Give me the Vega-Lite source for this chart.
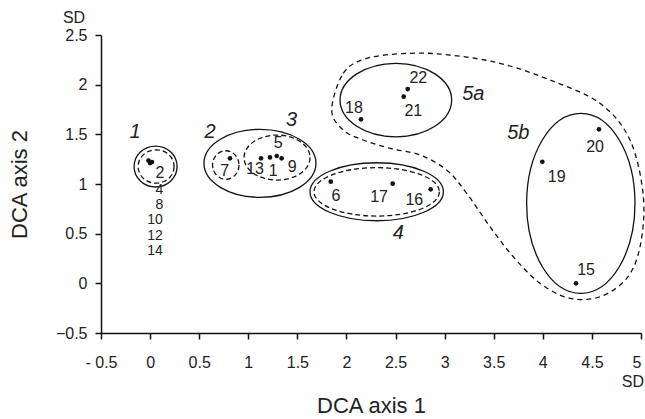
{
  "$schema": "https://vega.github.io/schema/vega-lite/v6.json",
  "width": 540,
  "height": 298,
  "autosize": {"type": "none"},
  "padding": {"left": 101, "top": 35, "right": 4, "bottom": 86},
  "background": "white",
  "config": {
    "view": {"stroke": null},
    "font": "Liberation Sans",
    "axis": {
      "grid": false,
      "domainColor": "#111",
      "domainWidth": 1.5,
      "tickColor": "#111",
      "tickWidth": 1.5,
      "tickSize": 6,
      "labelFont": "Liberation Sans",
      "labelFontSize": 16,
      "labelColor": "#222",
      "labelFlush": false,
      "labelOverlap": false,
      "format": "~g",
      "titleFont": "Liberation Sans",
      "titleFontSize": 22,
      "titleFontWeight": "normal",
      "titleColor": "#222"
    }
  },
  "datasets": {
    "pts": [
      {"id": "2", "x": -0.016, "y": 1.236},
      {"id": "4", "x": 0.019, "y": 1.221},
      {"id": "8", "x": 0.0, "y": 1.211},
      {"id": "7", "x": 0.814, "y": 1.258},
      {"id": "13", "x": 1.13, "y": 1.258},
      {"id": "1", "x": 1.221, "y": 1.268},
      {"id": "5", "x": 1.29, "y": 1.282},
      {"id": "9", "x": 1.34, "y": 1.258},
      {"id": "6", "x": 1.84, "y": 1.023},
      {"id": "17", "x": 2.471, "y": 1.003},
      {"id": "16", "x": 2.858, "y": 0.946},
      {"id": "22", "x": 2.624, "y": 1.956},
      {"id": "21", "x": 2.583, "y": 1.879},
      {"id": "18", "x": 2.148, "y": 1.651},
      {"id": "20", "x": 4.572, "y": 1.55},
      {"id": "19", "x": 3.995, "y": 1.224},
      {"id": "15", "x": 4.338, "y": 0.0}
    ],
    "lbl": [
      {"t": "2", "x": 0.101, "y": 1.113, "s": "big"},
      {"t": "4", "x": 0.094, "y": 0.939, "s": "small"},
      {"t": "8", "x": 0.094, "y": 0.788, "s": "small"},
      {"t": "10", "x": 0.05, "y": 0.637, "s": "small"},
      {"t": "12", "x": 0.05, "y": 0.479, "s": "small"},
      {"t": "14", "x": 0.05, "y": 0.325, "s": "small"},
      {"t": "7", "x": 0.761, "y": 1.134, "s": "big"},
      {"t": "13", "x": 1.069, "y": 1.148, "s": "big"},
      {"t": "1", "x": 1.255, "y": 1.134, "s": "big"},
      {"t": "9", "x": 1.448, "y": 1.174, "s": "big"},
      {"t": "5", "x": 1.306, "y": 1.409, "s": "big"},
      {"t": "6", "x": 1.894, "y": 0.882, "s": "big"},
      {"t": "17", "x": 2.332, "y": 0.872, "s": "big"},
      {"t": "16", "x": 2.691, "y": 0.839, "s": "big"},
      {"t": "22", "x": 2.732, "y": 2.064, "s": "big"},
      {"t": "21", "x": 2.681, "y": 1.738, "s": "big"},
      {"t": "18", "x": 2.077, "y": 1.762, "s": "big"},
      {"t": "20", "x": 4.532, "y": 1.375, "s": "big"},
      {"t": "19", "x": 4.141, "y": 1.073, "s": "big"},
      {"t": "15", "x": 4.44, "y": 0.134, "s": "big"}
    ],
    "grp": [
      {"t": "1", "x": -0.153, "y": 1.526},
      {"t": "2", "x": 0.61, "y": 1.526},
      {"t": "3", "x": 1.442, "y": 1.644},
      {"t": "4", "x": 2.528, "y": 0.506},
      {"t": "5a", "x": 3.292, "y": 1.906},
      {"t": "5b", "x": 3.75, "y": 1.51}
    ],
    "ann": [
      {"t": "SD", "x": -0.775, "y": 2.676, "a": "top"},
      {"t": "SD", "x": 5.03, "y": -0.994, "a": "bottom"}
    ],
    "ell": [
      {"id": "E1s", "x": 0.056, "y": 1.176},
      {"id": "E1d", "x": 0.061, "y": 1.176},
      {"id": "E2s", "x": 1.119, "y": 1.208},
      {"id": "E7d", "x": 0.771, "y": 1.191},
      {"id": "E3d", "x": 1.293, "y": 1.266},
      {"id": "E4s", "x": 2.308, "y": 0.922},
      {"id": "E4d", "x": 2.308, "y": 0.921},
      {"id": "E5a", "x": 2.503, "y": 1.845},
      {"id": "E5b", "x": 4.387, "y": 0.805}
    ],
    "blob": [
      {"i": 1, "x": 1.85, "y": 1.745},
      {"i": 2, "x": 1.968, "y": 2.114},
      {"i": 3, "x": 2.206, "y": 2.265},
      {"i": 4, "x": 2.647, "y": 2.316},
      {"i": 5, "x": 3.055, "y": 2.298},
      {"i": 6, "x": 3.564, "y": 2.215},
      {"i": 7, "x": 4.073, "y": 2.047},
      {"i": 8, "x": 4.582, "y": 1.812},
      {"i": 9, "x": 4.888, "y": 1.443},
      {"i": 10, "x": 5.024, "y": 0.872},
      {"i": 11, "x": 4.99, "y": 0.368},
      {"i": 12, "x": 4.854, "y": 0.05},
      {"i": 13, "x": 4.582, "y": -0.135},
      {"i": 14, "x": 4.277, "y": -0.151},
      {"i": 15, "x": 3.971, "y": 0.0},
      {"i": 16, "x": 3.699, "y": 0.268},
      {"i": 17, "x": 3.462, "y": 0.57},
      {"i": 18, "x": 3.225, "y": 0.906},
      {"i": 19, "x": 3.021, "y": 1.141},
      {"i": 20, "x": 2.749, "y": 1.292},
      {"i": 21, "x": 2.444, "y": 1.359},
      {"i": 22, "x": 2.172, "y": 1.443},
      {"i": 23, "x": 1.968, "y": 1.543}
    ]
  },
  "encoding": {
    "x": {
      "field": "x", "type": "quantitative",
      "scale": {"domain": [-0.5, 5], "nice": false, "zero": false},
      "axis": {
        "title": "DCA axis 1",
        "values": [-0.5, 0, 0.5, 1, 1.5, 2, 2.5, 3, 3.5, 4, 4.5, 5],
        "labelExpr": "datum.value < 0 ? '- 0.5' : datum.label",
        "labelAlign": {"condition": {"test": "datum.value >= 5", "value": "right"}, "value": "center"},
        "labelDx": {"condition": {"test": "datum.value >= 5", "value": 4}, "value": 0},
        "labelPadding": 15,
        "titleY": 72,
        "titleBaseline": "middle"
      }
    },
    "y": {
      "field": "y", "type": "quantitative",
      "scale": {"domain": [-0.5, 2.5], "nice": false, "zero": false},
      "axis": {
        "title": "DCA axis 2",
        "values": [-0.5, 0, 0.5, 1, 1.5, 2, 2.5],
        "labelPadding": 8,
        "titleX": -82,
        "titleBaseline": "middle"
      }
    }
  },
  "layer": [
    {
      "data": {"name": "blob"},
      "mark": {"type": "line", "interpolate": "cardinal-closed", "color": "#111", "strokeWidth": 1.3, "strokeDash": [5, 4]},
      "encoding": {"order": {"field": "i", "type": "quantitative"}}
    },
    {
      "data": {"name": "ell"}, "transform": [{"filter": "datum.id == 'E1s'"}],
      "mark": {"type": "point", "filled": false, "color": "#111", "strokeWidth": 1.3, "opacity": 1, "size": 1849,
        "shape": "M1,0C1,0.526 0.552,0.953 0,0.953C-0.552,0.953 -1,0.526 -1,0C-1,-0.526 -0.552,-0.953 0,-0.953C0.552,-0.953 1,-0.526 1,0Z"}
    },
    {
      "data": {"name": "ell"}, "transform": [{"filter": "datum.id == 'E1d'"}],
      "mark": {"type": "point", "filled": false, "color": "#111", "strokeWidth": 1.3, "opacity": 1, "size": 1296, "strokeDash": [5, 3],
        "shape": "M1,0C1,0.513 0.552,0.928 0,0.928C-0.552,0.928 -1,0.513 -1,0C-1,-0.513 -0.552,-0.928 0,-0.928C0.552,-0.928 1,-0.513 1,0Z"}
    },
    {
      "data": {"name": "ell"}, "transform": [{"filter": "datum.id == 'E2s'"}],
      "mark": {"type": "point", "filled": false, "color": "#111", "strokeWidth": 1.3, "opacity": 1, "size": 12544,
        "shape": "M1,0C1,0.335 0.552,0.607 0,0.607C-0.552,0.607 -1,0.335 -1,0C-1,-0.335 -0.552,-0.607 0,-0.607C0.552,-0.607 1,-0.335 1,0Z"}
    },
    {
      "data": {"name": "ell"}, "transform": [{"filter": "datum.id == 'E7d'"}],
      "mark": {"type": "point", "filled": false, "color": "#111", "strokeWidth": 1.3, "opacity": 1, "size": 818, "strokeDash": [5, 3],
        "shape": "M0.923,0C0.923,0.552 0.51,1 0,1C-0.51,1 -0.923,0.552 -0.923,0C-0.923,-0.552 -0.51,-1 0,-1C0.51,-1 0.923,-0.552 0.923,0Z"}
    },
    {
      "data": {"name": "ell"}, "transform": [{"filter": "datum.id == 'E3d'"}],
      "mark": {"type": "point", "filled": false, "color": "#111", "strokeWidth": 1.3, "opacity": 1, "size": 4356, "strokeDash": [5, 3],
        "shape": "M1,0C1,0.377 0.552,0.682 0,0.682C-0.552,0.682 -1,0.377 -1,0C-1,-0.377 -0.552,-0.682 0,-0.682C0.552,-0.682 1,-0.377 1,0Z"}
    },
    {
      "data": {"name": "ell"}, "transform": [{"filter": "datum.id == 'E4s'"}],
      "mark": {"type": "point", "filled": false, "color": "#111", "strokeWidth": 1.3, "opacity": 1, "size": 17796,
        "shape": "M1,0C1,0.24 0.552,0.435 0,0.435C-0.552,0.435 -1,0.24 -1,0C-1,-0.24 -0.552,-0.435 0,-0.435C0.552,-0.435 1,-0.24 1,0Z"}
    },
    {
      "data": {"name": "ell"}, "transform": [{"filter": "datum.id == 'E4d'"}],
      "mark": {"type": "point", "filled": false, "color": "#111", "strokeWidth": 1.3, "opacity": 1, "size": 15725, "strokeDash": [5, 3],
        "shape": "M1,0C1,0.213 0.552,0.386 0,0.386C-0.552,0.386 -1,0.213 -1,0C-1,-0.213 -0.552,-0.386 0,-0.386C0.552,-0.386 1,-0.213 1,0Z"}
    },
    {
      "data": {"name": "ell"}, "transform": [{"filter": "datum.id == 'E5a'"}],
      "mark": {"type": "point", "filled": false, "color": "#111", "strokeWidth": 1.3, "opacity": 1, "size": 12455,
        "shape": "M1,0C1,0.363 0.552,0.658 0,0.658C-0.552,0.658 -1,0.363 -1,0C-1,-0.363 -0.552,-0.658 0,-0.658C0.552,-0.658 1,-0.363 1,0Z"}
    },
    {
      "data": {"name": "ell"}, "transform": [{"filter": "datum.id == 'E5b'"}],
      "mark": {"type": "point", "filled": false, "color": "#111", "strokeWidth": 1.3, "opacity": 1, "size": 32400,
        "shape": "M0.602,0C0.602,0.552 0.333,1 0,1C-0.333,1 -0.602,0.552 -0.602,0C-0.602,-0.552 -0.333,-1 0,-1C0.333,-1 0.602,-0.552 0.602,0Z"}
    },
    {
      "data": {"name": "pts"},
      "mark": {"type": "circle", "color": "#111", "size": 22, "opacity": 1}
    },
    {
      "data": {"name": "lbl"},
      "mark": {"type": "text", "font": "Liberation Sans", "color": "#222", "align": "center", "baseline": "middle"},
      "encoding": {
        "text": {"field": "t"},
        "size": {"field": "s", "type": "nominal", "scale": {"domain": ["big", "small"], "range": [16, 14]}, "legend": null}
      }
    },
    {
      "data": {"name": "grp"},
      "mark": {"type": "text", "font": "Liberation Sans", "fontSize": 20, "fontStyle": "italic", "color": "#222", "align": "center", "baseline": "middle"},
      "encoding": {"text": {"field": "t"}}
    },
    {
      "data": {"name": "ann"}, "transform": [{"filter": "datum.a == 'top'"}],
      "mark": {"type": "text", "font": "Liberation Sans", "fontSize": 16, "color": "#222", "align": "center", "baseline": "middle"},
      "encoding": {"text": {"field": "t"}}
    },
    {
      "data": {"name": "ann"}, "transform": [{"filter": "datum.a == 'bottom'"}],
      "mark": {"type": "text", "font": "Liberation Sans", "fontSize": 16, "color": "#222", "align": "right", "baseline": "middle"},
      "encoding": {"text": {"field": "t"}}
    }
  ]
}
